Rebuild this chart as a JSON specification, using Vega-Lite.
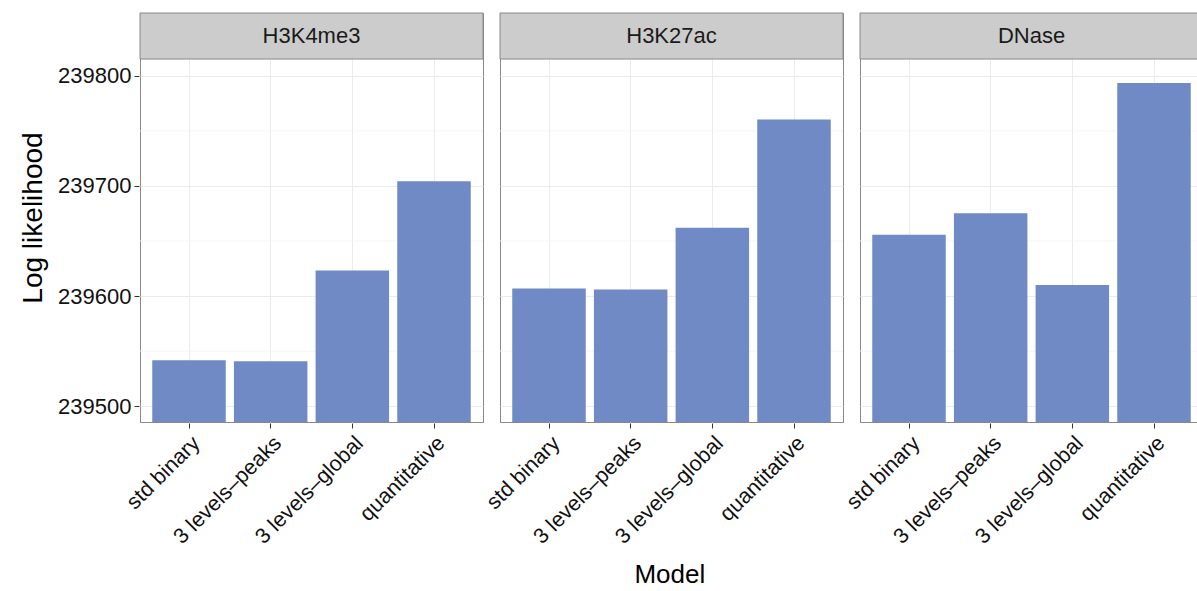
{
  "$schema": "https://vega.github.io/schema/vega-lite/v6.json",
  "background": "white",
  "padding": {"left": 19, "top": 12, "right": 0, "bottom": 5},
  "title": {"text": "Model", "orient": "bottom", "anchor": "middle", "frame": "bounds", "dx": 58, "fontSize": 26, "fontWeight": "normal", "color": "#000", "offset": 14},
  "data": {"values": [
    {"mark": "H3K4me3", "model": "std binary", "loglik": 239541.8},
    {"mark": "H3K4me3", "model": "3 levels–peaks", "loglik": 239540.9},
    {"mark": "H3K4me3", "model": "3 levels–global", "loglik": 239623.3},
    {"mark": "H3K4me3", "model": "quantitative", "loglik": 239704.3},
    {"mark": "H3K27ac", "model": "std binary", "loglik": 239607.0},
    {"mark": "H3K27ac", "model": "3 levels–peaks", "loglik": 239606.1},
    {"mark": "H3K27ac", "model": "3 levels–global", "loglik": 239662.1},
    {"mark": "H3K27ac", "model": "quantitative", "loglik": 239760.3},
    {"mark": "DNase", "model": "std binary", "loglik": 239655.7},
    {"mark": "DNase", "model": "3 levels–peaks", "loglik": 239675.2},
    {"mark": "DNase", "model": "3 levels–global", "loglik": 239610.0},
    {"mark": "DNase", "model": "quantitative", "loglik": 239793.4}
  ]},
  "facet": {"column": {"field": "mark", "type": "nominal", "sort": ["H3K4me3", "H3K27ac", "DNase"], "header": null, "title": null}},
  "spacing": 15,
  "spec": {
    "width": 343,
    "height": 409,
    "layer": [
      {"mark": {"type": "rule", "color": "#f3f3f3", "strokeWidth": 0.8}, "transform": [{"filter": "datum.model === 'std binary'"}], "encoding": {"y": {"datum": 239550}}},
      {"mark": {"type": "rule", "color": "#f3f3f3", "strokeWidth": 0.8}, "transform": [{"filter": "datum.model === 'std binary'"}], "encoding": {"y": {"datum": 239650}}},
      {"mark": {"type": "rule", "color": "#f3f3f3", "strokeWidth": 0.8}, "transform": [{"filter": "datum.model === 'std binary'"}], "encoding": {"y": {"datum": 239750}}},
      {
        "mark": {"type": "bar", "color": "#6f8ac4"},
        "encoding": {
          "x": {"field": "model", "type": "nominal", "sort": ["std binary", "3 levels–peaks", "3 levels–global", "quantitative"],
                "scale": {"paddingInner": 0.1, "paddingOuter": 0.15},
                "axis": {"title": null, "labelAngle": -45, "labelAlign": "right", "labelBaseline": "top", "labelFontSize": 21.5, "labelColor": "#111", "labelPadding": 4,
                         "tickSize": 5, "tickColor": "#333", "domain": false, "grid": true, "gridColor": "#ebebeb"}},
          "y": {"field": "loglik", "type": "quantitative",
                "scale": {"domain": [239485.7, 239857], "nice": false, "zero": false},
                "axis": {"title": "Log likelihood", "values": [239500, 239600, 239700, 239800], "format": "d",
                         "labelFontSize": 22, "labelColor": "#111", "labelPadding": 3, "tickSize": 5, "tickColor": "#333",
                         "domain": false, "grid": true, "gridColor": "#ebebeb",
                         "titleFontSize": 28, "titleFontWeight": "normal", "titleColor": "#000", "titlePadding": 10}},
          "y2": {"datum": 239485.7}
        }
      },
      {"mark": {"type": "rect", "fill": "#cccccc", "stroke": "#888888", "strokeWidth": 1}, "transform": [{"filter": "datum.model === 'std binary'"}], "encoding": {"y": {"datum": 239815.2}, "y2": {"datum": 239857}}},
      {"mark": {"type": "text", "fontSize": 22, "color": "#1a1a1a"}, "transform": [{"filter": "datum.model === 'std binary'"}], "encoding": {"y": {"datum": 239836}, "text": {"field": "mark"}}}
    ]
  },
  "config": {
    "font": "Liberation Sans",
    "view": {"stroke": "#888888", "strokeWidth": 1}
  }
}
